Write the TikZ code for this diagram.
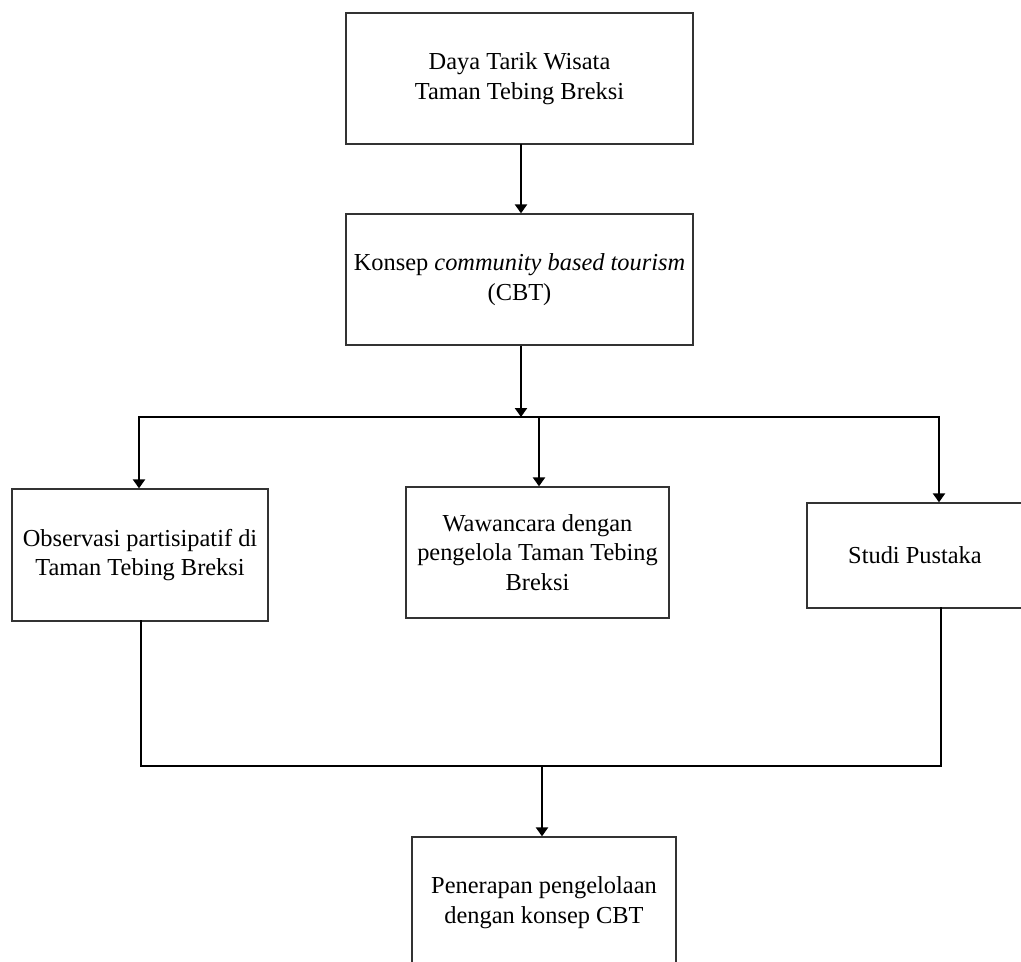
\documentclass[tikz,border=0pt]{standalone}
\usepackage{fontspec}
\setmainfont{Liberation Serif}
\usetikzlibrary{arrows.meta}
\begin{document}
\begin{tikzpicture}[x=1pt,y=-1pt,
  box/.style={draw=black!80,line width=1.3pt,rectangle,inner sep=0pt,align=center,
    font=\fontsize{24.4}{29.5}\selectfont},
  conn/.style={line width=2.8pt,line cap=rect},
  arr/.style={line width=2.8pt,-{Triangle[width=12pt,length=9pt]}}]
\clip (0,0) rectangle (1021,962);
\fill[white] (0,0) rectangle (1021,962);

\node[box,minimum width=347pt,minimum height=131pt] (b1) at (519.5,78.5)
  {Daya Tarik Wisata\\Taman Tebing Breksi};
\node[box,minimum width=347pt,minimum height=131pt] (b2) at (519.5,279.5)
  {Konsep \textit{community based tourism}\\(CBT)};
\node[box,minimum width=256pt,minimum height=132pt] (b3) at (140,555)
  {Observasi partisipatif di\\Taman Tebing Breksi};
\node[box,minimum width=263pt,minimum height=131pt] (b4) at (537.5,552.5)
  {Wawancara dengan\\pengelola Taman Tebing\\Breksi};
\node[box,minimum width=216pt,minimum height=105pt] (b5) at (915,555.5)
  {Studi Pustaka};
\node[box,minimum width=264pt,minimum height=131pt] (b6) at (544,902.5)
  {Penerapan pengelolaan\\dengan konsep CBT};

\coordinate (t1) at (521,144);
\coordinate (j1) at (521,417);
\coordinate (hl) at (139,417);
\coordinate (hm) at (539,417);
\coordinate (hr) at (939,417);
\coordinate (l1) at (141,766);
\coordinate (l2) at (941,766);
\coordinate (jm) at (542,766);

\draw[arr] (t1) -- (t1 |- b2.north);
\draw[arr] (j1 |- b2.south) -- (j1);
\draw[conn] (hl) -- (hr);
\draw[arr] (hl) -- (hl |- b3.north);
\draw[arr] (hm) -- (hm |- b4.north);
\draw[arr] (hr) -- (hr |- b5.north);
\draw[conn] (l1 |- b3.south) -- (l1) -- (l2) -- (l2 |- b5.south);
\draw[arr] (jm) -- (jm |- b6.north);
\end{tikzpicture}
\end{document}
